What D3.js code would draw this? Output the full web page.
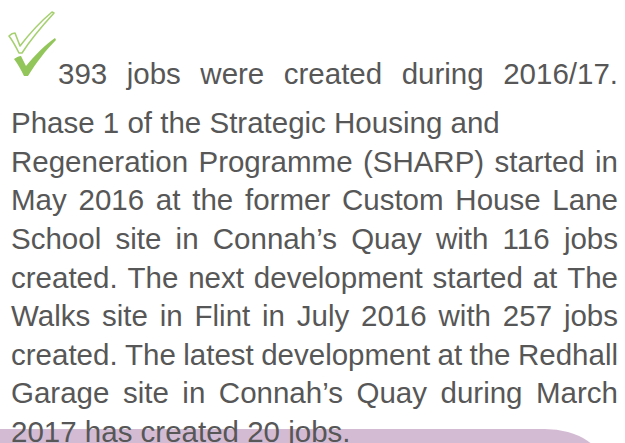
<!DOCTYPE html>
<html>
<head>
<meta charset="utf-8">
<script src="https://cdn.jsdelivr.net/npm/d3@7"></script>
<style>
  html, body { margin: 0; padding: 0; background: #ffffff; }
  svg { display: block; }
</style>
</head>
<body>
<div id="chart"></div>
<script>
// ---- content ----
const headline = "393 jobs were created during 2016/17.";
const bodyLines = [
  "Phase 1 of the Strategic Housing and",
  "Regeneration Programme (SHARP) started in",
  "May 2016 at the former Custom House Lane",
  "School site in Connah\u2019s Quay with 116 jobs",
  "created. The next development started at The",
  "Walks site in Flint in July 2016 with 257 jobs",
  "created. The latest development at the Redhall",
  "Garage site in Connah\u2019s Quay during March",
  "2017 has created 20 jobs."
];
// which body lines are justified (paragraph-end lines are left aligned)
const justified = [false, true, true, true, true, true, true, true, false];

const W = 625, H = 443;
const fontSize = 29.5;
const textColor = "#575757";
const fontFamily = "'Liberation Sans', Arial, sans-serif";

const svg = d3.select("#chart").append("svg")
  .attr("width", W).attr("height", H);

// lilac band at the bottom
svg.append("rect")
  .attr("x", -80).attr("y", 429)
  .attr("width", 685).attr("height", 80)
  .attr("rx", 60).attr("ry", 60)
  .attr("fill", "#D4BBD4");

// check mark icon
const icon = svg.append("g");
icon.append("path")
  .attr("d", "M9,36 C11,34 13,33 15,33 L20,46 C30,33 40,22 52,12 L54,13 C43,25 31,39 22,53 L19,53 C16,47 13,41 9,36 Z")
  .attr("fill", "#ffffff").attr("stroke", "#A6D070").attr("stroke-width", 1.6)
  .attr("stroke-linejoin", "round");
icon.append("path")
  .attr("d", "M14,59 C17,57 19,56 21,56 L26,66 C35,55 45,45 55,38 L56,40 C46,50 36,63 28,76 L24,76 C21,70 18,64 14,59 Z")
  .attr("fill", "#92C65A");

// scale for text line positions
const y = d3.scaleLinear().domain([0, bodyLines.length - 1]).range([133, 442]);
const left = 11, right = 618;

function measure(str) {
  const t = svg.append("text")
    .attr("font-family", fontFamily)
    .attr("font-size", fontSize)
    .text(str);
  const w = t.node().getComputedTextLength();
  t.remove();
  return w;
}

function drawLine(str, x0, x1, baseline, justify) {
  const words = str.split(" ");
  const widths = words.map(measure);
  const total = d3.sum(widths);
  const spaceW = measure("a b") - measure("ab");
  const gap = (justify && words.length > 1) ? (x1 - x0 - total) / (words.length - 1) : spaceW;
  const t = svg.append("text")
    .attr("font-family", fontFamily)
    .attr("font-size", fontSize)
    .attr("fill", textColor)
    .attr("y", baseline);
  let x = x0;
  words.forEach((w, i) => {
    t.append("tspan").attr("x", x).attr("y", baseline).text(w);
    x += widths[i] + gap;
  });
}

drawLine(headline, 58, right, 84, true);
bodyLines.forEach((ln, i) => drawLine(ln, left, right, y(i), justified[i]));
</script>
</body>
</html>
